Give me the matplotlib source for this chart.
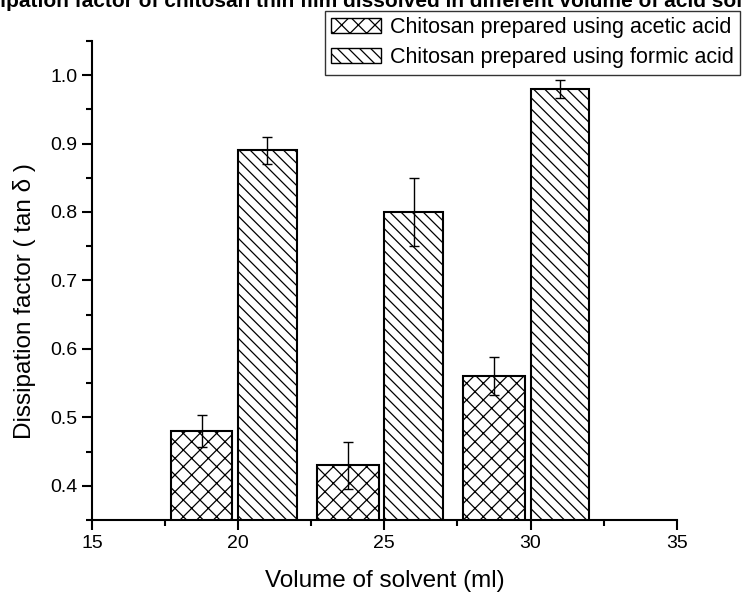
import numpy as np
import matplotlib.pyplot as plt
from matplotlib.patches import Patch
from matplotlib.ticker import MultipleLocator

plt.rcParams['font.family'] = ['Liberation Sans', 'DejaVu Sans']
plt.rcParams['hatch.linewidth'] = 0.9

volumes = [20, 25, 30]
acetic = [0.48, 0.43, 0.56]
acetic_err = [0.023, 0.034, 0.028]
formic = [0.89, 0.80, 0.98]
formic_err = [0.02, 0.05, 0.013]
series_names = ['Chitosan prepared using acetic acid', 'Chitosan prepared using formic acid']

x = np.array(volumes, dtype=float)
fig = plt.figure(figsize=(7.42, 5.92), dpi=100)
ax = fig.add_axes([0.124, 0.1216, 0.788, 0.8094])

ax.bar(x - 1.25, acetic, width=2.1, bottom=0, color='white', edgecolor='black',
       linewidth=1.5, hatch='xx', zorder=2)
ax.bar(x + 1.0, formic, width=2.0, bottom=0, color='white', edgecolor='black',
       linewidth=1.5, hatch='\\\\\\', zorder=2)
ax.errorbar(x - 1.25, acetic, yerr=acetic_err, fmt='none', ecolor='black',
            elinewidth=1, capsize=3.5, capthick=1, zorder=3)
ax.errorbar(x + 1.0, formic, yerr=formic_err, fmt='none', ecolor='black',
            elinewidth=1, capsize=3.5, capthick=1, zorder=3)

ax.set_xlim(15, 35)
ax.set_ylim(0.35, 1.05)
ax.xaxis.set_major_locator(MultipleLocator(5))
ax.xaxis.set_minor_locator(MultipleLocator(2.5))
ax.yaxis.set_major_locator(MultipleLocator(0.1))
ax.yaxis.set_minor_locator(MultipleLocator(0.05))
ax.xaxis.set_major_formatter(lambda v, p: f'{v:.0f}')
ax.yaxis.set_major_formatter(lambda v, p: f'{v:.1f}')
ax.tick_params(which='major', direction='out', length=7, width=1.5, labelsize=14)
ax.tick_params(which='minor', direction='out', length=4, width=1.5)

for side in ['top', 'right']:
    ax.spines[side].set_visible(False)
for side in ['left', 'bottom']:
    ax.spines[side].set_linewidth(1.5)

ax.set_xlabel('Volume of solvent (ml)', fontsize=17.5, labelpad=13)
ax.set_ylabel('Dissipation factor ( tan \u03b4 )', fontsize=17.5)
# label sits a little below the middle of the axis in the original
ax.yaxis.set_label_coords(-0.095, 0.457)

handles = [Patch(facecolor='white', edgecolor='black', hatch='xx'),
           Patch(facecolor='white', edgecolor='black', hatch='\\\\\\')]
leg = fig.legend(handles, series_names, loc='upper left',
                 bbox_to_anchor=(325 / 742, 1 - 11 / 592), fontsize=15.5,
                 frameon=True, fancybox=False, edgecolor='black',
                 handlelength=2.3, handleheight=0.7, handletextpad=0.42,
                 borderpad=0.3, labelspacing=0.4, borderaxespad=0)
leg.get_frame().set_linewidth(1.0)

fig.text(0.5, 1.0 - 7 / 592,
         'Dissipation factor of chitosan thin film dissolved in different volume of acid solvent',
         ha='center', va='baseline', fontsize=15, fontweight='bold')

fig.savefig('out.png', dpi=100)
